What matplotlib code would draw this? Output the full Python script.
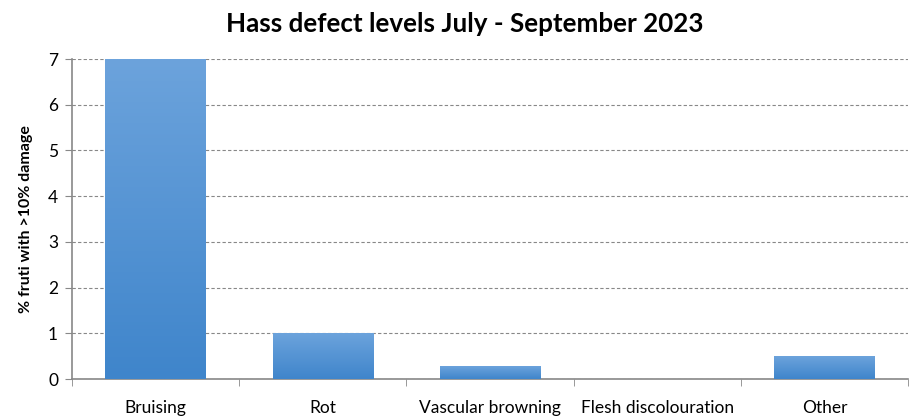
import matplotlib
matplotlib.use("Agg")
import matplotlib.pyplot as plt
import numpy as np

# Defect categories and % of fruit with >10% damage
categories = ["Bruising", "Rot", "Vascular browning", "Flesh discolouration", "Other"]
values = [7.0, 1.0, 0.28, 0.0, 0.5]
yticks = [0, 1, 2, 3, 4, 5, 6, 7]

plt.rcParams["font.family"] = ["Lato", "DejaVu Sans"]

fig = plt.figure(figsize=(9.14, 4.16), dpi=100)
ax = fig.add_axes([72 / 914, 1 - 379 / 416, 836 / 914, 320 / 416])

x = np.arange(len(categories))
bars = ax.bar(x, values, width=0.6, color="#5393D6", zorder=2)

# vertical gradient on each bar, lighter at the top
grad = np.linspace(0, 1, 256).reshape(-1, 1)
cmap = matplotlib.colors.LinearSegmentedColormap.from_list("bar", ["#3F85CB", "#6CA3DC"])
for b in bars:
    if b.get_height() <= 0:
        continue
    bx, by = b.get_x(), b.get_y()
    im = ax.imshow(grad, cmap=cmap, origin="lower", aspect="auto", zorder=3,
                   extent=[bx, bx + b.get_width(), by, by + b.get_height()])
    im.set_clip_path(b)

ax.set_xlim(-0.5, len(categories) - 0.5)
ax.set_ylim(0, 7)
ax.set_yticks(yticks)
ax.set_xticks(x)
ax.set_xticklabels(categories, fontsize=12.5)
ax.set_xticks(np.arange(-0.5, len(categories)), minor=True)
ax.tick_params(axis="x", which="major", length=0, pad=15)
ax.tick_params(axis="x", which="minor", length=5, color="#888888")
ax.tick_params(axis="y", length=5, color="#888888", labelsize=12.5, pad=5)

ax.grid(axis="y", color="#888888", linestyle=(0, (3, 2)), linewidth=0.8, zorder=1)
for s in ["top", "right"]:
    ax.spines[s].set_visible(False)
for s in ["left", "bottom"]:
    ax.spines[s].set_color("#888888")
    ax.spines[s].set_linewidth(1.2)

ax.set_ylabel("% fruti with >10% damage", fontsize=11.5, fontweight="bold", labelpad=11)
fig.suptitle("Hass defect levels July - September 2023", fontsize=18.7, fontweight="bold",
             x=0.509, y=0.97)

fig.savefig("out.png", dpi=100)
